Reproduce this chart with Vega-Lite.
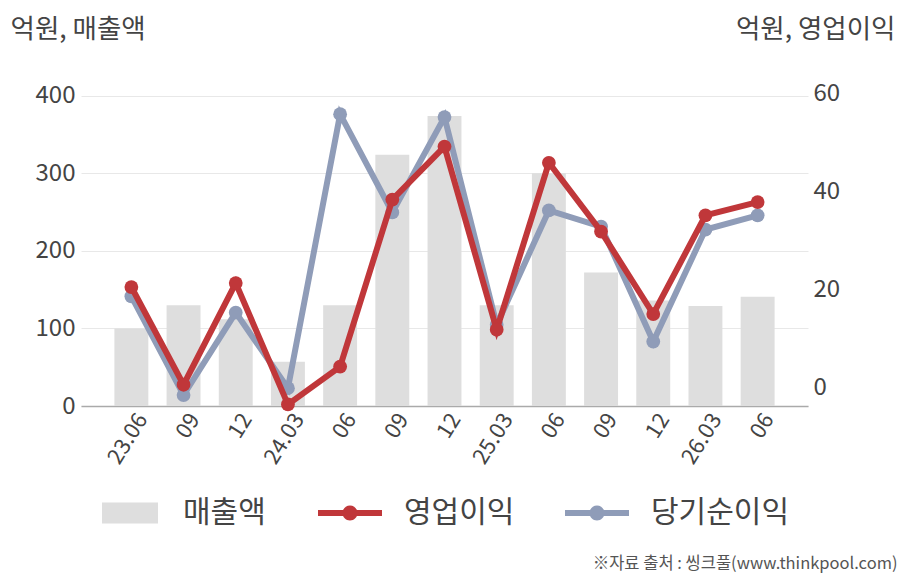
{
  "$schema": "https://vega.github.io/schema/vega-lite/v6.json",
  "width": 727,
  "height": 318,
  "autosize": "none",
  "padding": {"left": 81, "top": 88, "right": 100, "bottom": 174},
  "background": "white",
  "data": {
    "values": [
      {"q": "23.06", "sales": 100, "op": 20.5, "net": 18.6},
      {"q": "23.09", "sales": 130, "op": 0.6, "net": -1.5},
      {"q": "23.12", "sales": 112, "op": 21.3, "net": 15.3},
      {"q": "24.03", "sales": 57, "op": -3.4, "net": -0.1},
      {"q": "24.06", "sales": 130, "op": 4.3, "net": 55.7},
      {"q": "24.09", "sales": 324, "op": 38.3, "net": 35.7},
      {"q": "24.12", "sales": 374, "op": 49.1, "net": 55.1},
      {"q": "25.03", "sales": 130, "op": 11.8, "net": 12.8},
      {"q": "25.06", "sales": 300, "op": 45.8, "net": 36.1},
      {"q": "25.09", "sales": 172, "op": 31.8, "net": 32.8},
      {"q": "25.12", "sales": 136, "op": 15.0, "net": 9.4},
      {"q": "26.03", "sales": 129, "op": 35.1, "net": 32.2},
      {"q": "26.06", "sales": 141, "op": 37.8, "net": 35.1}
    ]
  },
  "encoding": {
    "x": {
      "field": "q",
      "type": "nominal",
      "sort": null,
      "scale": {"paddingInner": 0.35, "paddingOuter": 0.64},
      "axis": {
        "title": "※자료 출처 : 씽크풀(www.thinkpool.com)",
        "titleX": 816,
        "titleY": 162,
        "titleAlign": "right",
        "titleBaseline": "alphabetic",
        "titleFontSize": 16.5,
        "titleFontWeight": "normal",
        "titleColor": "#555555",
        "labelExpr": "indexof(['23.06','24.03','25.03','26.03'], datum.value) >= 0 ? datum.value : slice(datum.value, 3)",
        "labelAngle": -58,
        "labelAlign": "right",
        "labelBaseline": "middle",
        "labelFontSize": 22,
        "labelColor": "#444444",
        "labelPadding": 9,
        "labelOffset": 11,
        "ticks": false,
        "domainColor": "#aaaaaa",
        "domainWidth": 1.5
      }
    }
  },
  "layer": [
    {
      "mark": {"type": "bar"},
      "encoding": {
        "y": {
          "field": "sales",
          "type": "quantitative",
          "scale": {"domain": [0, 410], "nice": false},
          "axis": {
            "title": "억원, 매출액",
            "titleAngle": 0,
            "titleX": -71,
            "titleY": -51,
            "titleAlign": "left",
            "titleBaseline": "alphabetic",
            "titleFontSize": 26.5,
            "titleFontWeight": "normal",
            "titleColor": "#444444",
            "values": [0, 100, 200, 300, 400],
            "labelFontSize": 24,
            "labelColor": "#444444",
            "labelPadding": 6,
            "ticks": false,
            "domain": false,
            "gridColor": "#e8e8e8"
          }
        },
        "fill": {
          "datum": "매출액",
          "scale": {"range": ["#dedede"]},
          "legend": {
            "orient": "none",
            "legendX": 21,
            "legendY": 397,
            "title": null,
            "symbolType": "M-1,-0.375H1V0.375H-1Z",
            "symbolSize": 3136,
            "symbolStrokeWidth": 0,
            "labelFontSize": 30,
            "labelColor": "#444444",
            "labelOffset": 25,
            "padding": 0
          }
        }
      }
    },
    {
      "layer": [
        {
          "mark": {"type": "line", "strokeWidth": 6, "point": {"size": 190, "filled": true}},
          "encoding": {
            "y": {"field": "net", "type": "quantitative"},
            "color": {"datum": "당기순이익"}
          }
        },
        {
          "mark": {"type": "line", "strokeWidth": 6, "point": {"size": 190, "filled": true}},
          "encoding": {
            "y": {
              "field": "op",
              "type": "quantitative",
              "scale": {"domain": [-3.73, 61.03], "nice": false},
              "axis": {
                "orient": "right",
                "title": "억원, 영업이익",
                "titleAngle": 0,
                "titleX": 87,
                "titleY": -51,
                "titleAlign": "right",
                "titleBaseline": "alphabetic",
                "titleFontSize": 26.5,
                "titleFontWeight": "normal",
                "titleColor": "#444444",
                "values": [0, 20, 40, 60],
                "labelFontSize": 24,
                "labelColor": "#444444",
                "labelPadding": 5,
                "ticks": false,
                "domain": false,
                "grid": false
              }
            },
            "color": {
              "datum": "영업이익",
              "scale": {"domain": ["영업이익", "당기순이익"], "range": ["#c0373a", "#8f9cb8"]},
              "legend": {
                "orient": "none",
                "legendX": 237,
                "legendY": 393,
                "direction": "horizontal",
                "title": null,
                "symbolType": "M-1,-0.094H1V0.094H-1Z M-0.234,0A0.234,0.234 0 1,1 0.234,0A0.234,0.234 0 1,1 -0.234,0Z",
                "symbolSize": 4096,
                "symbolStrokeWidth": 0,
                "labelFontSize": 30,
                "labelColor": "#444444",
                "labelOffset": 22,
                "columnPadding": 50,
                "padding": 0,
                "encode": {
                  "symbols": {"update": {"fill": {"scale": "color", "field": "value"}, "fillOpacity": {"value": 1}}}
                }
              }
            }
          }
        }
      ]
    }
  ],
  "resolve": {"scale": {"y": "independent"}},
  "config": {
    "font": "Noto Sans CJK KR",
    "view": {"stroke": null},
    "axis": {"labelFont": "Noto Sans CJK KR", "titleFont": "Noto Sans CJK KR"},
    "legend": {"labelFont": "Noto Sans CJK KR"}
  }
}
